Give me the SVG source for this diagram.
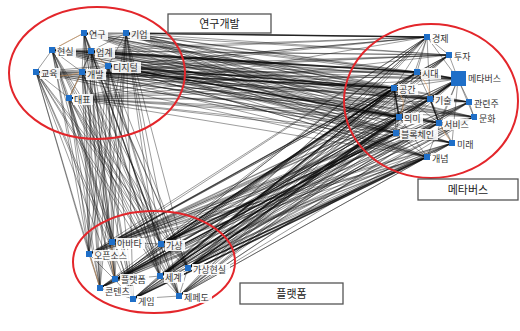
<svg xmlns="http://www.w3.org/2000/svg" width="520" height="331" viewBox="0 0 520 331">
<style>
.e{fill:none;stroke:#111;stroke-opacity:0.55;stroke-width:0.75}
.hv{fill:none;stroke:#000;stroke-opacity:0.7;stroke-width:1.6}
.or{fill:none;stroke:#f0a050;stroke-opacity:0.7;stroke-width:0.7}
.ring{fill:none;stroke:#e3262b;stroke-width:2}
.nd{fill:#1f6fc8}
.lb{fill:#fff;fill-opacity:0.9}
.t{font-family:"Noto Sans CJK KR","Noto Sans",sans-serif;font-size:9px;fill:#333}
.box{fill:#fff;stroke:#555;stroke-width:1.3}
.bt{font-family:"Noto Sans CJK KR","Noto Sans",sans-serif;font-size:11px;fill:#222;text-anchor:middle}
</style>
<rect width="520" height="331" fill="#fff"/>
<g id="connectors">
<path class="e" d="M84 33L427 37M84 33L449 55M84 33L417 72M84 33L458 79M84 33L394 88M84 33L430 99M84 33L469 102M84 33L474 117M84 33L399 117M84 33L439 123M84 33L396 133M84 33L452 143M84 33L427 157"/>
<path class="e" d="M126 33L427 37M126 33L449 55M126 33L417 72M126 33L458 79M126 33L394 88M126 33L430 99M126 33L469 102M126 33L474 117M126 33L399 117M126 33L439 123M126 33L396 133M126 33L452 143M126 33L427 157"/>
<path class="e" d="M52 50L427 37M52 50L449 55M52 50L417 72M52 50L458 79M52 50L394 88M52 50L430 99M52 50L469 102M52 50L474 117M52 50L399 117M52 50L439 123M52 50L396 133M52 50L452 143M52 50L427 157"/>
<path class="e" d="M91 51L427 37M91 51L449 55M91 51L417 72M91 51L458 79M91 51L394 88M91 51L430 99M91 51L469 102M91 51L474 117M91 51L399 117M91 51L439 123M91 51L396 133M91 51L452 143M91 51L427 157"/>
<path class="e" d="M108 66L427 37M108 66L449 55M108 66L417 72M108 66L458 79M108 66L394 88M108 66L430 99M108 66L469 102M108 66L474 117M108 66L399 117M108 66L439 123M108 66L396 133M108 66L452 143M108 66L427 157"/>
<path class="e" d="M36 72L427 37M36 72L449 55M36 72L417 72M36 72L458 79M36 72L394 88M36 72L430 99M36 72L469 102M36 72L474 117M36 72L399 117M36 72L439 123M36 72L396 133M36 72L452 143M36 72L427 157"/>
<path class="e" d="M82 72L427 37M82 72L449 55M82 72L417 72M82 72L458 79M82 72L394 88M82 72L430 99M82 72L469 102M82 72L474 117M82 72L399 117M82 72L439 123M82 72L396 133M82 72L452 143M82 72L427 157"/>
<path class="e" d="M69 98L427 37M69 98L449 55M69 98L417 72M69 98L458 79M69 98L394 88M69 98L430 99M69 98L469 102M69 98L474 117M69 98L399 117M69 98L439 123M69 98L396 133M69 98L452 143M69 98L427 157"/>
<path class="e" d="M112 242L427 37M112 242L449 55M112 242L417 72M112 242L458 79M112 242L394 88M112 242L430 99M112 242L469 102M112 242L474 117M112 242L399 117M112 242L439 123M112 242L396 133M112 242L452 143M112 242L427 157"/>
<path class="e" d="M89 254L427 37M89 254L449 55M89 254L417 72M89 254L458 79M89 254L394 88M89 254L430 99M89 254L469 102M89 254L474 117M89 254L399 117M89 254L439 123M89 254L396 133M89 254L452 143M89 254L427 157"/>
<path class="e" d="M161 244L427 37M161 244L449 55M161 244L417 72M161 244L458 79M161 244L394 88M161 244L430 99M161 244L469 102M161 244L474 117M161 244L399 117M161 244L439 123M161 244L396 133M161 244L452 143M161 244L427 157"/>
<path class="e" d="M188 268L427 37M188 268L449 55M188 268L417 72M188 268L458 79M188 268L394 88M188 268L430 99M188 268L469 102M188 268L474 117M188 268L399 117M188 268L439 123M188 268L396 133M188 268L452 143M188 268L427 157"/>
<path class="e" d="M115 280L427 37M115 280L449 55M115 280L417 72M115 280L458 79M115 280L394 88M115 280L430 99M115 280L469 102M115 280L474 117M115 280L399 117M115 280L439 123M115 280L396 133M115 280L452 143M115 280L427 157"/>
<path class="e" d="M160 276L427 37M160 276L449 55M160 276L417 72M160 276L458 79M160 276L394 88M160 276L430 99M160 276L469 102M160 276L474 117M160 276L399 117M160 276L439 123M160 276L396 133M160 276L452 143M160 276L427 157"/>
<path class="e" d="M100 288L427 37M100 288L449 55M100 288L417 72M100 288L458 79M100 288L394 88M100 288L430 99M100 288L469 102M100 288L474 117M100 288L399 117M100 288L439 123M100 288L396 133M100 288L452 143M100 288L427 157"/>
<path class="e" d="M133 299L427 37M133 299L449 55M133 299L417 72M133 299L458 79M133 299L394 88M133 299L430 99M133 299L469 102M133 299L474 117M133 299L399 117M133 299L439 123M133 299L396 133M133 299L452 143M133 299L427 157"/>
<path class="e" d="M179 296L427 37M179 296L449 55M179 296L417 72M179 296L458 79M179 296L394 88M179 296L430 99M179 296L469 102M179 296L474 117M179 296L399 117M179 296L439 123M179 296L396 133M179 296L452 143M179 296L427 157"/>
<path class="e" d="M84 33L112 242M84 33L89 254M84 33L161 244M84 33L188 268M84 33L115 280M84 33L160 276M84 33L100 288M84 33L133 299M84 33L179 296"/>
<path class="e" d="M126 33L112 242M126 33L89 254M126 33L161 244M126 33L188 268M126 33L115 280M126 33L160 276M126 33L100 288M126 33L133 299M126 33L179 296"/>
<path class="e" d="M52 50L112 242M52 50L89 254M52 50L161 244M52 50L188 268M52 50L115 280M52 50L160 276M52 50L100 288M52 50L133 299M52 50L179 296"/>
<path class="e" d="M91 51L112 242M91 51L89 254M91 51L161 244M91 51L188 268M91 51L115 280M91 51L160 276M91 51L100 288M91 51L133 299M91 51L179 296"/>
<path class="e" d="M108 66L112 242M108 66L89 254M108 66L161 244M108 66L188 268M108 66L115 280M108 66L160 276M108 66L100 288M108 66L133 299M108 66L179 296"/>
<path class="e" d="M36 72L112 242M36 72L89 254M36 72L161 244M36 72L188 268M36 72L115 280M36 72L160 276M36 72L100 288M36 72L133 299M36 72L179 296"/>
<path class="e" d="M82 72L112 242M82 72L89 254M82 72L161 244M82 72L188 268M82 72L115 280M82 72L160 276M82 72L100 288M82 72L133 299M82 72L179 296"/>
<path class="e" d="M69 98L112 242M69 98L89 254M69 98L161 244M69 98L188 268M69 98L115 280M69 98L160 276M69 98L100 288M69 98L133 299M69 98L179 296"/>
<path class="e" d="M84 33L126 33M84 33L52 50M84 33L91 51M84 33L82 72M126 33L91 51M126 33L108 66M52 50L91 51M52 50L36 72M52 50L82 72M91 51L108 66M91 51L82 72M108 66L82 72M36 72L82 72M36 72L69 98M82 72L69 98M52 50L69 98M91 51L69 98"/>
<path class="or" d="M52 50Q70 40 84 33M36 72Q60 80 82 72M91 51Q100 60 108 66M69 98Q75 85 82 72"/>
<path class="e" d="M458 79L427 37M458 79L449 55M458 79L417 72M458 79L394 88M458 79L430 99M458 79L469 102M458 79L474 117M458 79L399 117M458 79L439 123M458 79L396 133M458 79L452 143M458 79L427 157M427 37L449 55M427 37L417 72M427 37L394 88M427 37L430 99M427 37L399 117M417 72L394 88M417 72L430 99M417 72L449 55M394 88L399 117M394 88L430 99M394 88L396 133M394 88L439 123M430 99L469 102M430 99L439 123M430 99L399 117M430 99L452 143M399 117L396 133M399 117L439 123M399 117L427 157M439 123L452 143M439 123L474 117M439 123L396 133M396 133L427 157M396 133L452 143M469 102L474 117M452 143L427 157"/>
<path class="or" d="M417 72Q430 85 430 99M394 88Q410 100 399 117M439 123Q445 135 452 143"/>
<path class="e" d="M112 242L89 254M112 242L161 244M112 242L115 280M89 254L115 280M89 254L100 288M161 244L160 276M161 244L188 268M161 244L115 280M115 280L160 276M115 280L100 288M115 280L133 299M160 276L133 299M160 276L179 296M160 276L188 268M133 299L100 288M133 299L179 296M188 268L179 296"/>
<path class="or" d="M89 254Q95 270 100 288M112 242Q110 262 115 280"/>
<path class="hv" d="M160 276L394 88M160 276L399 117M115 280L396 133M161 244L394 88M161 244L396 133M133 299L427 157M188 268L399 117M188 268L427 157M91 51L417 72M108 66L394 88M82 72L394 88M126 33L427 37M52 50L417 72M108 66L399 117M458 79L417 72M458 79L430 99M430 99L439 123M394 88L399 117"/>
</g>
<g id="clusters">
<ellipse class="ring" cx="97" cy="73" rx="88" ry="66"/>
<ellipse class="ring" cx="431" cy="101" rx="87" ry="77"/>
<ellipse class="ring" cx="154" cy="262" rx="81" ry="51"/>
</g>
<g id="box-rnd"><rect class="box" x="168" y="14" width="103" height="19"/><text class="bt" x="219.5" y="28">연구개발</text></g>
<g id="box-meta"><rect class="box" x="418" y="179" width="100" height="21"/><text class="bt" x="468" y="194">메타버스</text></g>
<g id="box-platform"><rect class="box" x="240" y="283" width="103" height="21"/><text class="bt" x="291.5" y="298">플랫폼</text></g>
<g id="n-yeongu"><rect class="nd" x="81" y="30" width="6" height="6"/><rect class="lb" x="88" y="29" width="20" height="11"/><text class="t" x="89" y="38">연구</text></g>
<g id="n-gieop"><rect class="nd" x="123" y="30" width="6" height="6"/><rect class="lb" x="130" y="29" width="20" height="11"/><text class="t" x="131" y="38">기업</text></g>
<g id="n-hyeonsil"><rect class="nd" x="49" y="47" width="6" height="6"/><rect class="lb" x="56" y="46" width="20" height="11"/><text class="t" x="57" y="55">현실</text></g>
<g id="n-eopgye"><rect class="nd" x="88" y="48" width="6" height="6"/><rect class="lb" x="95" y="47" width="20" height="11"/><text class="t" x="96" y="56">업계</text></g>
<g id="n-digital"><rect class="nd" x="105" y="63" width="6" height="6"/><rect class="lb" x="112" y="62" width="29" height="11"/><text class="t" x="113" y="71">디지털</text></g>
<g id="n-gyoyuk"><rect class="nd" x="33" y="69" width="6" height="6"/><rect class="lb" x="40" y="68" width="20" height="11"/><text class="t" x="41" y="77">교육</text></g>
<g id="n-gaebal"><rect class="nd" x="79" y="69" width="6" height="6"/><rect class="lb" x="86" y="69" width="20" height="11"/><text class="t" x="87" y="78">개발</text></g>
<g id="n-daepyo"><rect class="nd" x="66" y="95" width="6" height="6"/><rect class="lb" x="73" y="94" width="20" height="11"/><text class="t" x="74" y="103">대표</text></g>
<g id="n-gyeongje"><rect class="nd" x="424" y="34" width="6" height="6"/><rect class="lb" x="431" y="33" width="20" height="11"/><text class="t" x="432" y="42">경제</text></g>
<g id="n-tuja"><rect class="nd" x="446" y="52" width="6" height="6"/><rect class="lb" x="453" y="51" width="20" height="11"/><text class="t" x="454" y="60">투자</text></g>
<g id="n-sidae"><rect class="nd" x="414" y="69" width="6" height="6"/><rect class="lb" x="421" y="68" width="20" height="11"/><text class="t" x="422" y="77">시대</text></g>
<g id="n-metaverse"><rect class="nd" x="451" y="71" width="15" height="15"/><rect class="lb" x="467" y="73" width="38" height="11"/><text class="t" x="468" y="82">메타버스</text></g>
<g id="n-gonggan"><rect class="nd" x="391" y="85" width="6" height="6"/><rect class="lb" x="398" y="84" width="20" height="11"/><text class="t" x="399" y="93">공간</text></g>
<g id="n-gisul"><rect class="nd" x="427" y="96" width="6" height="6"/><rect class="lb" x="434" y="95" width="20" height="11"/><text class="t" x="435" y="104">기술</text></g>
<g id="n-gwanryeonju"><rect class="nd" x="466" y="99" width="6" height="6"/><rect class="lb" x="473" y="98" width="29" height="11"/><text class="t" x="474" y="107">관련주</text></g>
<g id="n-munhwa"><rect class="nd" x="471" y="114" width="6" height="6"/><rect class="lb" x="478" y="113" width="20" height="11"/><text class="t" x="479" y="122">문화</text></g>
<g id="n-uimi"><rect class="nd" x="396" y="114" width="6" height="6"/><rect class="lb" x="403" y="113" width="20" height="11"/><text class="t" x="404" y="122">의미</text></g>
<g id="n-service"><rect class="nd" x="436" y="120" width="6" height="6"/><rect class="lb" x="443" y="119" width="29" height="11"/><text class="t" x="444" y="128">서비스</text></g>
<g id="n-blockchain"><rect class="nd" x="393" y="130" width="6" height="6"/><rect class="lb" x="400" y="129" width="38" height="11"/><text class="t" x="401" y="138">블록체인</text></g>
<g id="n-mirae"><rect class="nd" x="449" y="140" width="6" height="6"/><rect class="lb" x="456" y="139" width="20" height="11"/><text class="t" x="457" y="148">미래</text></g>
<g id="n-gaenyeom"><rect class="nd" x="424" y="154" width="6" height="6"/><rect class="lb" x="431" y="153" width="20" height="11"/><text class="t" x="432" y="162">개념</text></g>
<g id="n-avatar"><rect class="nd" x="109" y="239" width="6" height="6"/><rect class="lb" x="116" y="238" width="29" height="11"/><text class="t" x="117" y="247">아바타</text></g>
<g id="n-opensource"><rect class="nd" x="86" y="251" width="6" height="6"/><rect class="lb" x="93" y="250" width="38" height="11"/><text class="t" x="94" y="259">오픈소스</text></g>
<g id="n-gasang"><rect class="nd" x="158" y="241" width="6" height="6"/><rect class="lb" x="165" y="240" width="20" height="11"/><text class="t" x="166" y="249">가상</text></g>
<g id="n-vr"><rect class="nd" x="185" y="265" width="6" height="6"/><rect class="lb" x="192" y="264" width="38" height="11"/><text class="t" x="193" y="273">가상현실</text></g>
<g id="n-platform"><rect class="nd" x="112" y="276" width="6" height="6"/><rect class="lb" x="120" y="274" width="29" height="11"/><text class="t" x="121" y="283">플랫폼</text></g>
<g id="n-segye"><rect class="nd" x="157" y="273" width="6" height="6"/><rect class="lb" x="164" y="272" width="20" height="11"/><text class="t" x="165" y="281">세계</text></g>
<g id="n-content"><rect class="nd" x="97" y="285" width="6" height="6"/><rect class="lb" x="104" y="286" width="29" height="11"/><text class="t" x="105" y="295">콘텐츠</text></g>
<g id="n-game"><rect class="nd" x="130" y="296" width="6" height="6"/><rect class="lb" x="137" y="296" width="20" height="11"/><text class="t" x="138" y="305">게임</text></g>
<g id="n-zepeto"><rect class="nd" x="176" y="293" width="6" height="6"/><rect class="lb" x="183" y="292" width="29" height="11"/><text class="t" x="184" y="301">제페도</text></g>
</svg>
